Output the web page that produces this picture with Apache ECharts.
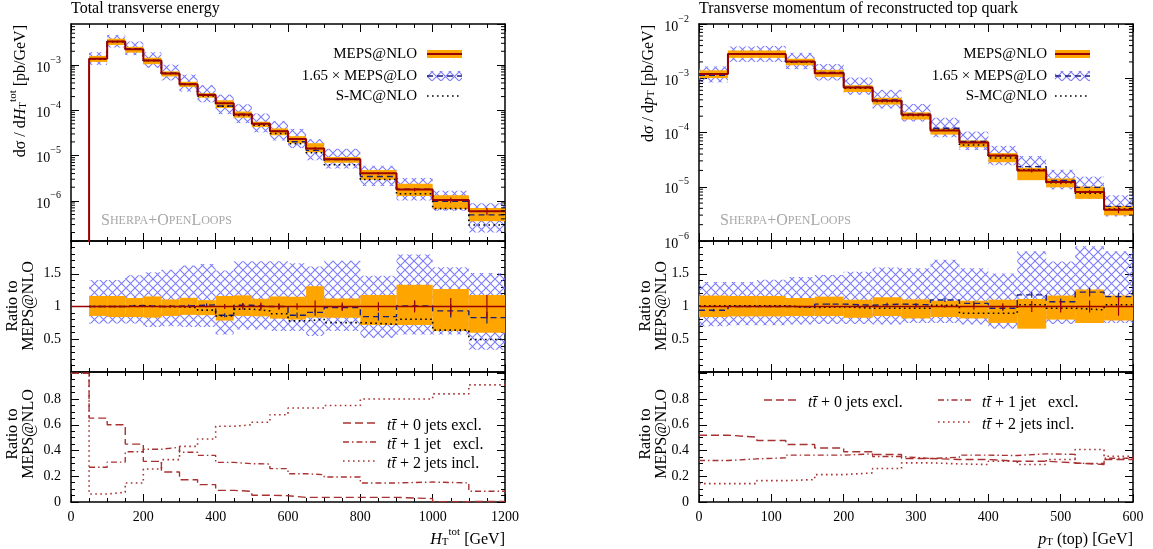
<!DOCTYPE html>
<html><head><meta charset="utf-8">
<script src="https://cdn.jsdelivr.net/npm/echarts@6/dist/echarts.min.js"></script>
<style>html,body{margin:0;padding:0;background:#fff}#c{width:1153px;height:549px}</style>
</head><body><div id="c"></div>
<script>
// ================= DATA: left plot (H_T^tot) =================
const htEdges = [0,50,100,150,200,250,300,350,400,450,500,550,600,650,700,800,900,1000,1100,1200];
const htMeps = [1e-9,1.36e-3,3.27e-3,2.22e-3,1.25e-3,6.5e-4,3.75e-4,2.18e-4,1.43e-4,8.0e-5,5.0e-5,3.44e-5,2.33e-5,1.43e-5,8.3e-6,4.07e-6,1.78e-6,1.05e-6,5.9e-7];
const htMepsErr = [null,0.005,0.005,0.006,0.007,0.008,0.01,0.012,0.04,0.046,0.06,0.05,0.05,0.09,0.06,0.065,0.09,0.13,0.18];
const htMepsBandLo = [null,0.856,0.84,0.84,0.83,0.856,0.872,0.867,0.785,0.856,0.85,0.815,0.80,0.83,0.83,0.718,0.718,0.626,0.60];
const htMepsBandHi = [null,1.16,1.16,1.13,1.154,1.108,1.133,1.097,1.16,1.17,1.118,1.154,1.149,1.31,1.123,1.174,1.333,1.267,1.174];
const htLoRatio = [null,1.0,1.0,1.015,1.0,1.005,1.015,1.025,0.867,1.02,1.0,1.0,0.867,0.91,0.985,0.846,1.01,0.933,0.83];
const htLoErr = [null,0.01,0.01,0.01,0.012,0.015,0.015,0.02,0.03,0.035,0.035,0.04,0.04,0.05,0.05,0.06,0.08,0.1,0.09];
const htLoBandLo = [null,0.738,0.74,0.74,0.687,0.70,0.687,0.687,0.574,0.65,0.65,0.626,0.626,0.55,0.626,0.52,0.574,0.574,0.34];
const htLoBandHi = [null,1.405,1.405,1.477,1.523,1.56,1.626,1.65,1.55,1.69,1.69,1.69,1.66,1.61,1.70,1.47,1.795,1.60,1.51];
const htSmcRatio = [null,1.0,1.0,1.01,1.0,0.995,0.985,0.944,0.856,0.96,0.933,0.89,0.78,0.805,0.754,0.728,0.805,0.64,0.497];
const htFrac0 = [1.0,0.652,0.60,0.45,0.316,0.233,0.173,0.135,0.09,0.083,0.052,0.049,0.036,0.036,0.036,0.036,0.026,0.003,0.005];
const htFrac1 = [null,0.27,0.31,0.39,0.41,0.425,0.386,0.362,0.308,0.298,0.295,0.259,0.22,0.212,0.194,0.148,0.155,0.148,0.083];
const htFrac2 = [1.0,0.062,0.075,0.148,0.256,0.329,0.432,0.49,0.588,0.60,0.62,0.678,0.73,0.73,0.75,0.80,0.80,0.84,0.91];

// ================= DATA: right plot (p_T top) =================
const ptEdges = [0,40,80,120,160,200,240,280,320,360,400,440,480,520,560,600];
const ptMeps = [1.2e-3,2.8e-3,2.8e-3,2.03e-3,1.24e-3,6.73e-4,3.83e-4,2.12e-4,1.09e-4,6.55e-5,3.77e-5,2.0e-5,1.22e-5,7.98e-6,3.78e-6];
const ptMepsErr = [0.01,0.005,0.005,0.006,0.008,0.01,0.012,0.015,0.02,0.045,0.05,0.085,0.09,0.09,0.14];
const ptMepsBandLo = [0.839,0.849,0.849,0.854,0.854,0.828,0.854,0.818,0.839,0.818,0.75,0.661,0.80,0.75,0.786];
const ptMepsBandHi = [1.167,1.161,1.161,1.13,1.151,1.104,1.141,1.109,1.089,1.089,1.104,1.115,1.167,1.26,1.167];
const ptLoRatio = [0.943,1.0,1.0,0.995,1.036,1.02,1.036,1.026,1.10,1.047,0.974,1.177,1.073,1.219,1.151];
const ptLoErr = [0.02,0.01,0.01,0.012,0.015,0.015,0.02,0.025,0.03,0.035,0.04,0.045,0.05,0.065,0.06];
const ptLoBandLo = [0.698,0.714,0.714,0.724,0.734,0.734,0.724,0.75,0.75,0.724,0.661,0.724,0.734,0.75,0.75];
const ptLoBandHi = [1.375,1.375,1.41,1.45,1.48,1.53,1.594,1.583,1.714,1.583,1.505,1.844,1.688,1.92,1.844];
const ptSmcRatio = [1.01,1.01,1.01,0.984,0.995,0.974,0.974,0.974,1.02,0.896,0.896,1.026,0.974,0.948,1.026];
const ptFrac0 = [0.519,0.504,0.478,0.447,0.42,0.39,0.369,0.338,0.33,0.33,0.317,0.317,0.304,0.291,0.33];
const ptFrac1 = [0.322,0.335,0.343,0.364,0.364,0.374,0.353,0.338,0.348,0.364,0.361,0.374,0.37,0.30,0.34];
const ptFrac2 = [0.143,0.143,0.166,0.174,0.213,0.226,0.26,0.304,0.296,0.291,0.317,0.291,0.33,0.408,0.356];

// tick label lists
const htTicks = [0,200,400,600,800,1000,1200];
const ptTicks = [0,100,200,300,400,500,600];

// ================= helpers =================
const FONT = "'Liberation Serif','DejaVu Serif',serif";
const RED = '#990000', BLUE = '#1c1c7a', FRC = '#a83232', ORANGE = '#ffa500';

function makeHatch(){
  const c = document.createElement('canvas'); c.width = 9; c.height = 9;
  const g = c.getContext('2d');
  g.strokeStyle = 'rgba(110,110,255,0.9)'; g.lineWidth = 1.1;
  g.beginPath(); g.moveTo(-1,-1); g.lineTo(10,10); g.moveTo(-1,10); g.lineTo(10,-1); g.stroke();
  return c;
}
const HATCH = {image: makeHatch(), repeat: 'repeat'};

function mul(a, b){ return a.map((v,i)=> (v==null||b[i]==null)?null:v*b[i]); }
function steps(edges, vals){
  const out=[];
  for(let i=0;i<vals.length;i++){
    if(vals[i]==null){ out.push([edges[i],'-']); continue; }
    out.push([edges[i],vals[i]],[edges[i+1],vals[i]]);
  }
  return out;
}
function bandItems(edges, lo, hi){
  const out=[];
  for(let i=0;i<lo.length;i++){ if(lo[i]==null||hi[i]==null) continue; out.push([edges[i],edges[i+1],lo[i],hi[i]]); }
  return out;
}
function errItems(edges, c, e){
  const out=[];
  for(let i=0;i<c.length;i++){ if(c[i]==null||e[i]==null) continue; out.push([(edges[i]+edges[i+1])/2, c[i]*(1-e[i]), c[i]*(1+e[i])]); }
  return out;
}
function errItemsAbs(edges, c, e){
  const out=[];
  for(let i=0;i<c.length;i++){ if(c[i]==null||e[i]==null) continue; out.push([(edges[i]+edges[i+1])/2, c[i]-e[i], c[i]+e[i]]); }
  return out;
}
function bandSeries(g, items, fill, z){
  return {type:'custom', xAxisIndex:2*g, yAxisIndex:2*g, z, silent:true, data:items,
    encode:{x:[0,1], y:[2,3]},
    renderItem:(params, api)=>{
      const p0 = api.coord([api.value(0), api.value(3)]);
      const p1 = api.coord([api.value(1), api.value(2)]);
      const cs = params.coordSys;
      const r = echarts.graphic.clipRectByRect({x:p0[0], y:p0[1], width:p1[0]-p0[0], height:p1[1]-p0[1]},
        {x:cs.x, y:cs.y, width:cs.width, height:cs.height});
      return r ? {type:'rect', shape:r, style:{fill}} : null;
    }};
}
function errSeries(g, items, color, z){
  return {type:'custom', xAxisIndex:2*g, yAxisIndex:2*g, z, silent:true, data:items,
    encode:{x:0, y:[1,2]},
    renderItem:(params, api)=>{
      const a = api.coord([api.value(0), api.value(1)]);
      const b = api.coord([api.value(0), api.value(2)]);
      const cs = params.coordSys;
      const y1 = Math.min(Math.max(a[1], cs.y), cs.y+cs.height), y2 = Math.min(Math.max(b[1], cs.y), cs.y+cs.height);
      return {type:'line', shape:{x1:a[0], y1, x2:a[0], y2}, style:{stroke:color, lineWidth:1.2}};
    }};
}
function stepLine(g, edges, vals, color, width, type, z){
  return {type:'line', xAxisIndex:2*g, yAxisIndex:2*g, data:steps(edges, vals), symbol:'none', showSymbol:false,
    connectNulls:false, silent:true, z, clip:true, lineStyle:{color, width, type}};
}
// minor ticks for log axes (2..9 x 10^k), drawn on both vertical frame sides
const logMinorVals = [];
for(let k=-8;k<=-2;k++){ for(let m=2;m<=9;m++){ logMinorVals.push(m*Math.pow(10,k)); } }
function logMinorSeries(g, xmin){
  return {type:'custom', xAxisIndex:2*g, yAxisIndex:2*g, z:20, silent:true,
    data: logMinorVals.map(v=>[xmin, v]), encode:{x:0,y:1},
    renderItem:(params, api)=>{
      const cs = params.coordSys;
      const y = api.coord([api.value(0), api.value(1)])[1];
      if(!(y > cs.y+0.5 && y < cs.y+cs.height-0.5)) return null;
      return {type:'group', children:[
        {type:'line', shape:{x1:cs.x, y1:y, x2:cs.x+4, y2:y}, style:{stroke:'#000', lineWidth:1}},
        {type:'line', shape:{x1:cs.x+cs.width, y1:y, x2:cs.x+cs.width-4, y2:y}, style:{stroke:'#000', lineWidth:1}}
      ]};
    }};
}

// ================= grids & axes =================
const GL = 71, GR = 699, GW = 434;
const grids = [
  {left:GL, top:24, width:GW, height:217},
  {left:GL, top:241, width:GW, height:131},
  {left:GL, top:372, width:GW, height:130},
  {left:GR, top:24, width:GW, height:217},
  {left:GR, top:241, width:GW, height:131},
  {left:GR, top:372, width:GW, height:130},
];
const axLine = {show:true, onZero:false, lineStyle:{color:'#000', width:1.5}};
const axTick = {show:true, inside:true, length:8, lineStyle:{color:'#000', width:1}};

const xAxes = [], yAxes = [];
for(let g=0; g<6; g++){
  const left = g<3;
  const ticks = left ? htTicks : ptTicks;
  for(const pos of ['bottom','top']){
    xAxes.push({type:'value', gridIndex:g, position:pos, min:ticks[0], max:ticks[ticks.length-1],
      interval: ticks[1]-ticks[0],
      axisLine:axLine, axisTick:axTick,
      minorTick:{show:true, splitNumber: left?4:5, length:4, lineStyle:{color:'#000', width:1}},
      splitLine:{show:false},
      axisLabel:{show:(pos==='bottom' && (g===2||g===5)), color:'#000', fontSize:14, fontFamily:FONT, margin:8,
        showMinLabel:true, showMaxLabel:true, formatter:(v)=>String(v)}});
  }
  const kind = g%3;
  for(const pos of ['left','right']){
    const showL = pos==='left';
    if(kind===0){
      const mn = left ? 1.30e-7 : 1e-6, mx = left ? 8.0e-3 : 1e-2;
      yAxes.push({type:'log', logBase:10, gridIndex:g, position:pos, min:mn, max:mx,
        axisLine:axLine, axisTick:axTick, minorTick:{show:false}, splitLine:{show:false},
        axisLabel:{show:showL, margin:10, showMinLabel:!left, showMaxLabel:!left,
          formatter:(v)=>{ const l=Math.log10(v); const e=Math.round(l); if(Math.abs(l-e)>0.01) return ''; return '{b|10}{s|\u2212'+Math.abs(e)+'}'; },
          rich:{b:{fontSize:14, fontFamily:FONT, color:'#000', lineHeight:20, verticalAlign:'bottom'},
                s:{fontSize:10, fontFamily:FONT, color:'#000', lineHeight:12, verticalAlign:'top'}}}});
    } else if(kind===1){
      yAxes.push({type:'value', gridIndex:g, position:pos, min:0, max:2, interval:0.5,
        axisLine:axLine, axisTick:axTick,
        minorTick:{show:true, splitNumber:5, length:4, lineStyle:{color:'#000', width:1}}, splitLine:{show:false},
        axisLabel:{show:showL, color:'#000', fontSize:14, fontFamily:FONT, margin:10, showMinLabel:false, showMaxLabel:false,
          formatter:(v)=> (v<=0.001||v>=1.99)?'':String(v)}});
    } else {
      yAxes.push({type:'value', gridIndex:g, position:pos, min:0, max:1.01, interval:0.2,
        axisLine:axLine, axisTick:axTick,
        minorTick:{show:true, splitNumber:4, length:4, lineStyle:{color:'#000', width:1}}, splitLine:{show:false},
        axisLabel:{show:showL, color:'#000', fontSize:14, fontFamily:FONT, margin:10, showMinLabel:true, showMaxLabel:false,
          formatter:(v)=> (v>0.95)?'':(v===0?'0':String(Math.round(v*10)/10))}});
    }
  }
}

// ================= series =================
const series = [];
function addPanels(gBase, edges, meps, mErr, bLo, bHi, loR, loErr, loLo, loHi, smc, f0, f1, f2){
  const gm = gBase, gr = gBase+1, gf = gBase+2;
  // main
  series.push(bandSeries(gm, bandItems(edges, mul(meps, loLo), mul(meps, loHi)), HATCH, 1));
  series.push(bandSeries(gm, bandItems(edges, mul(meps, bLo), mul(meps, bHi)), ORANGE, 2));
  series.push(stepLine(gm, edges, mul(meps, loR), BLUE, 1.4, [6,4], 4));
  series.push(stepLine(gm, edges, mul(meps, smc), '#000', 1.6, [1.6,3.4], 5));
  series.push(stepLine(gm, edges, meps, RED, 2, 'solid', 6));
  series.push(errSeries(gm, errItems(edges, meps, mErr), RED, 7));
  series.push(logMinorSeries(gm, edges[0]));
  // ratio
  const ones = meps.map(()=>1);
  series.push(bandSeries(gr, bandItems(edges, loLo, loHi), HATCH, 1));
  series.push(bandSeries(gr, bandItems(edges, bLo, bHi), ORANGE, 2));
  series.push(stepLine(gr, edges, loR, BLUE, 1.4, [6,4], 4));
  series.push(errSeries(gr, errItemsAbs(edges, loR, loErr), BLUE, 4));
  series.push(stepLine(gr, edges, smc, '#000', 1.6, [1.6,3.4], 5));
  series.push(stepLine(gr, edges, ones, RED, 1.5, 'solid', 6));
  series.push(errSeries(gr, errItemsAbs(edges, ones.map((v,i)=>mErr[i]==null?null:1), mErr), RED, 7));
  // fractions
  series.push(stepLine(gf, edges, f0, FRC, 1.4, [8,4], 4));
  series.push(stepLine(gf, edges, f1, FRC, 1.4, [6,3,1.5,3], 4));
  series.push(stepLine(gf, edges, f2, FRC, 1.6, [1.6,3.4], 4));
}
addPanels(0, htEdges, htMeps, htMepsErr, htMepsBandLo, htMepsBandHi, htLoRatio, htLoErr, htLoBandLo, htLoBandHi, htSmcRatio, htFrac0, htFrac1, htFrac2);
addPanels(3, ptEdges, ptMeps, ptMepsErr, ptMepsBandLo, ptMepsBandHi, ptLoRatio, ptLoErr, ptLoBandLo, ptLoBandHi, ptSmcRatio, ptFrac0, ptFrac1, ptFrac2);

// ================= graphic texts & legends =================
function richSet(sz){
  return {
    n:{fontSize:sz, fontFamily:FONT, fill:'#000', lineHeight:sz+5, verticalAlign:'bottom'},
    i:{fontSize:sz, fontFamily:FONT, fontStyle:'italic', fill:'#000', lineHeight:sz+5, verticalAlign:'bottom'},
    sub:{fontSize:Math.round(sz*0.68), fontFamily:FONT, fill:'#000', lineHeight:Math.round(sz*0.72), verticalAlign:'bottom'},
    sup:{fontSize:Math.round(sz*0.68), fontFamily:FONT, fill:'#000', lineHeight:Math.round(sz*0.72), verticalAlign:'top'}
  };
}
const RICH15 = richSet(15), RICH16 = richSet(16);
function txt(x, y, text, opts){
  opts = opts||{};
  return {type:'text', x, y, rotation:opts.rot||0, z:100, silent:true,
    style:{text, fill:opts.color||'#000', font: (opts.size||15)+'px '+FONT, align:opts.align||'left',
      verticalAlign:opts.va||'middle', rich:opts.rich||RICH15}};
}
const g = [];
// titles
g.push(txt(71, 9, 'Total transverse energy', {size:16}));
g.push(txt(699, 9, 'Transverse momentum of reconstructed top quark', {size:16}));
// y titles
g.push(txt(18, 25, '{n|d\u03c3 / d}{i|H}{sub|T}{sup|tot}{n| [pb/GeV]}', {rot:Math.PI/2, align:'right', rich:RICH16}));
g.push(txt(646, 25, '{n|d\u03c3 / d}{i|p}{sub|T}{n| [pb/GeV]}', {rot:Math.PI/2, align:'right', rich:RICH16}));
for(const [x1,x2] of [[13,29],[646,662]]){
  g.push(txt(x1, 306, 'Ratio to', {rot:Math.PI/2, align:'center', size:16}));
  g.push(txt(x2, 306, 'MEPS@NLO', {rot:Math.PI/2, align:'center', size:16}));
  g.push(txt(x1, 434, 'Ratio to', {rot:Math.PI/2, align:'center', size:16}));
  g.push(txt(x2, 434, 'MEPS@NLO', {rot:Math.PI/2, align:'center', size:16}));
}
// x titles
g.push(txt(505, 537, '{i|H}{sub|T}{sup|tot}{n| [GeV]}', {align:'right', rich:RICH16}));
g.push(txt(1133, 537, '{i|p}{sub|T}{n| (top) [GeV]}', {align:'right', rich:RICH16}));
// Sherpa+OpenLoops (small caps, grey)
const SC = {b:{fontSize:16, fontFamily:FONT, fill:'#a8a8a8'}, s:{fontSize:12, fontFamily:FONT, fill:'#a8a8a8'}};
for(const x of [101, 720]){
  g.push(txt(x, 221, '{b|S}{s|HERPA}{b|+O}{s|PEN}{b|L}{s|OOPS}', {rich:SC, color:'#a8a8a8'}));
}
// main legends
for(const [tx, sx] of [[417,427],[1047,1055]]){
  g.push(txt(tx, 54, 'MEPS@NLO', {align:'right'}));
  g.push(txt(tx, 76, '1.65 \u00d7 MEPS@LO', {align:'right'}));
  g.push(txt(tx, 96, 'S-MC@NLO', {align:'right'}));
  g.push({type:'rect', z:100, silent:true, shape:{x:sx, y:50, width:35, height:8}, style:{fill:ORANGE}});
  g.push({type:'line', z:101, silent:true, shape:{x1:sx, y1:54, x2:sx+35, y2:54}, style:{stroke:RED, lineWidth:2}});
  g.push({type:'rect', z:100, silent:true, shape:{x:sx, y:71, width:35, height:10}, style:{fill:HATCH}});
  g.push({type:'line', z:101, silent:true, shape:{x1:sx, y1:76, x2:sx+35, y2:76}, style:{stroke:BLUE, lineWidth:1.4, lineDash:[6,4]}});
  g.push({type:'line', z:101, silent:true, shape:{x1:sx, y1:96, x2:sx+35, y2:96}, style:{stroke:'#000', lineWidth:1.6, lineDash:[1.6,3.4]}});
}
// fraction legends
const FL = ['{i|t\u0074\u0304}{n| + 0 jets excl.}', '{i|t\u0074\u0304}{n| + 1 jet   excl.}', '{i|t\u0074\u0304}{n| + 2 jets incl.}'];
const FD = [[8,4],[6,3,1.5,3],[1.6,3.4]];
const fleg = [ [343,423,0],[343,442,1],[343,461,2], [764,400,0],[938,400,1],[938,422,2] ];
for(const [sx, y, k] of fleg){
  g.push({type:'line', z:101, silent:true, shape:{x1:sx, y1:y, x2:sx+34, y2:y}, style:{stroke:FRC, lineWidth:1.5, lineDash:FD[k]}});
  g.push(txt(sx+44, y, FL[k], {rich:RICH16, size:16}));
}

const option = {
  animation:false,
  textStyle:{fontFamily:FONT},
  grid:grids, xAxis:xAxes, yAxis:yAxes, series, graphic:g
};
const chart = echarts.init(document.getElementById('c'));
chart.setOption(option);
</script>
</body></html>
